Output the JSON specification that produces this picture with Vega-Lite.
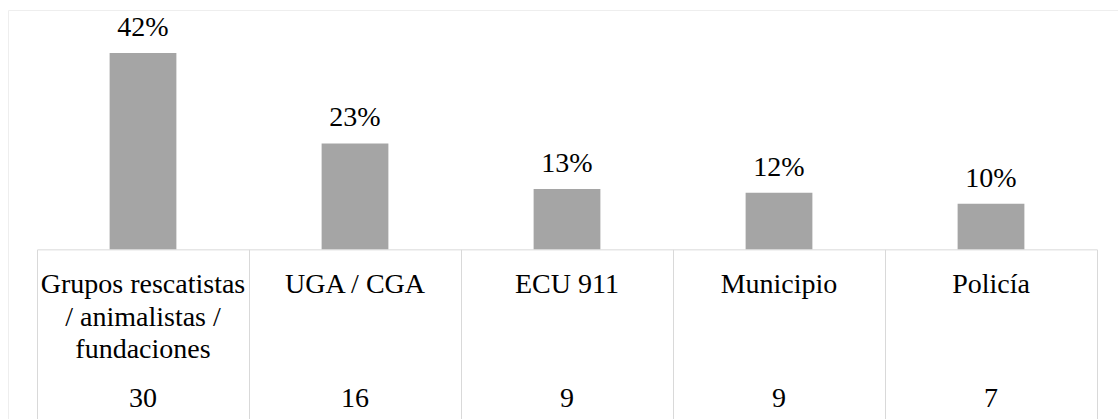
{
  "$schema": "https://vega.github.io/schema/vega-lite/v6.json",
  "width": 1110,
  "height": 409,
  "autosize": {"type": "none"},
  "padding": {"left": 8, "top": 10, "right": 0, "bottom": 0},
  "background": "white",
  "config": {
    "view": {"stroke": "#eeeeee", "strokeWidth": 1},
    "font": "'Liberation Serif', 'Times New Roman', Times, 'DejaVu Serif', serif"
  },
  "data": {
    "values": [
      {"categoria": "Grupos rescatistas\n/ animalistas /\nfundaciones", "pct": 42.25, "etiqueta": "42%", "n": "30"},
      {"categoria": "UGA / CGA", "pct": 22.8, "etiqueta": "23%", "n": "16"},
      {"categoria": "ECU 911", "pct": 13.0, "etiqueta": "13%", "n": "9"},
      {"categoria": "Municipio", "pct": 12.2, "etiqueta": "12%", "n": "9"},
      {"categoria": "Policía", "pct": 9.8, "etiqueta": "10%", "n": "7"}
    ]
  },
  "encoding": {
    "x": {
      "field": "categoria",
      "type": "nominal",
      "sort": null,
      "scale": {"range": [29, 1089], "paddingInner": 0, "paddingOuter": 0},
      "axis": {
        "orient": "bottom",
        "offset": -169.65,
        "title": null,
        "labels": false,
        "grid": false,
        "ticks": true,
        "tickBand": "extent",
        "tickSize": 170,
        "tickColor": "#d9d9d9",
        "tickWidth": 1,
        "domain": true,
        "domainColor": "#d9d9d9",
        "domainWidth": 1
      }
    }
  },
  "layer": [
    {
      "mark": {"type": "bar", "color": "#a5a5a5", "width": {"band": 0.315}},
      "encoding": {
        "y": {
          "field": "pct",
          "type": "quantitative",
          "scale": {"domain": [-36.5, 51.5], "nice": false, "zero": false},
          "axis": null
        },
        "y2": {"datum": 0}
      }
    },
    {
      "mark": {"type": "text", "font": "'Liberation Serif', 'Times New Roman', Times, 'DejaVu Serif', serif", "baseline": "alphabetic", "dy": -17, "fontSize": 28, "color": "#000000"},
      "encoding": {
        "y": {"field": "pct", "type": "quantitative"},
        "text": {"field": "etiqueta"}
      }
    },
    {
      "mark": {"type": "text", "font": "'Liberation Serif', 'Times New Roman', Times, 'DejaVu Serif', serif", "baseline": "alphabetic", "fontSize": 28, "lineBreak": "\n", "lineHeight": 32.5, "color": "#000000"},
      "encoding": {
        "y": {"datum": -9.39, "type": "quantitative"},
        "text": {"field": "categoria"}
      }
    },
    {
      "mark": {"type": "text", "font": "'Liberation Serif', 'Times New Roman', Times, 'DejaVu Serif', serif", "baseline": "alphabetic", "fontSize": 28, "color": "#000000"},
      "encoding": {
        "y": {"datum": -33.85, "type": "quantitative"},
        "text": {"field": "n"}
      }
    }
  ]
}
